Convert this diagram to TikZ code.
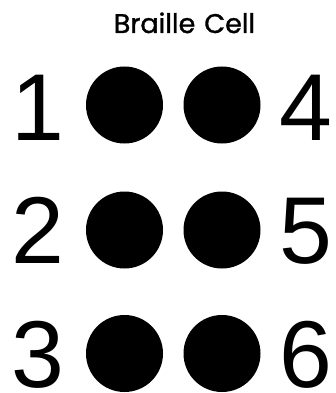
\documentclass[tikz,border=0pt]{standalone}
\usepackage{fontspec}
\setmainfont{Liberation Sans}
\newfontfamily\titlefont{Poppins}[FakeBold=1.2]
\begin{document}
\begin{tikzpicture}[x=1pt,y=-1pt,
  dot/.style={circle,fill=black,inner sep=0pt,minimum size=77pt},
  digit/.style={anchor=base,inner sep=0pt,text depth=0pt,font=\fontsize{95}{95}\selectfont},
  title/.style={anchor=base,inner sep=0pt,font=\titlefont\fontsize{27}{27}\selectfont}]
\useasboundingbox (0,0) rectangle (336,393);
\node[title] (t) at (184.5,33) {Braille\,\,Cell};
\node[dot] (d1) at (124.5,105) {};
\node[dot] (d4) at (222,105) {};
\node[dot] (d2) at (124.5,230) {};
\node[dot] (d5) at (222,230) {};
\node[dot] (d3) at (124.5,353.5) {};
\node[dot] (d6) at (222,353.5) {};
\node[digit] (n1) at (38,140) {1};
\node[digit] (n2) at (38,263) {2};
\node[digit] (n3) at (38,387) {3};
\node[digit] (n4) at (306,140) {4};
\node[digit] (n5) at (306,263) {5};
\node[digit] (n6) at (306,387) {6};
\end{tikzpicture}
\end{document}
